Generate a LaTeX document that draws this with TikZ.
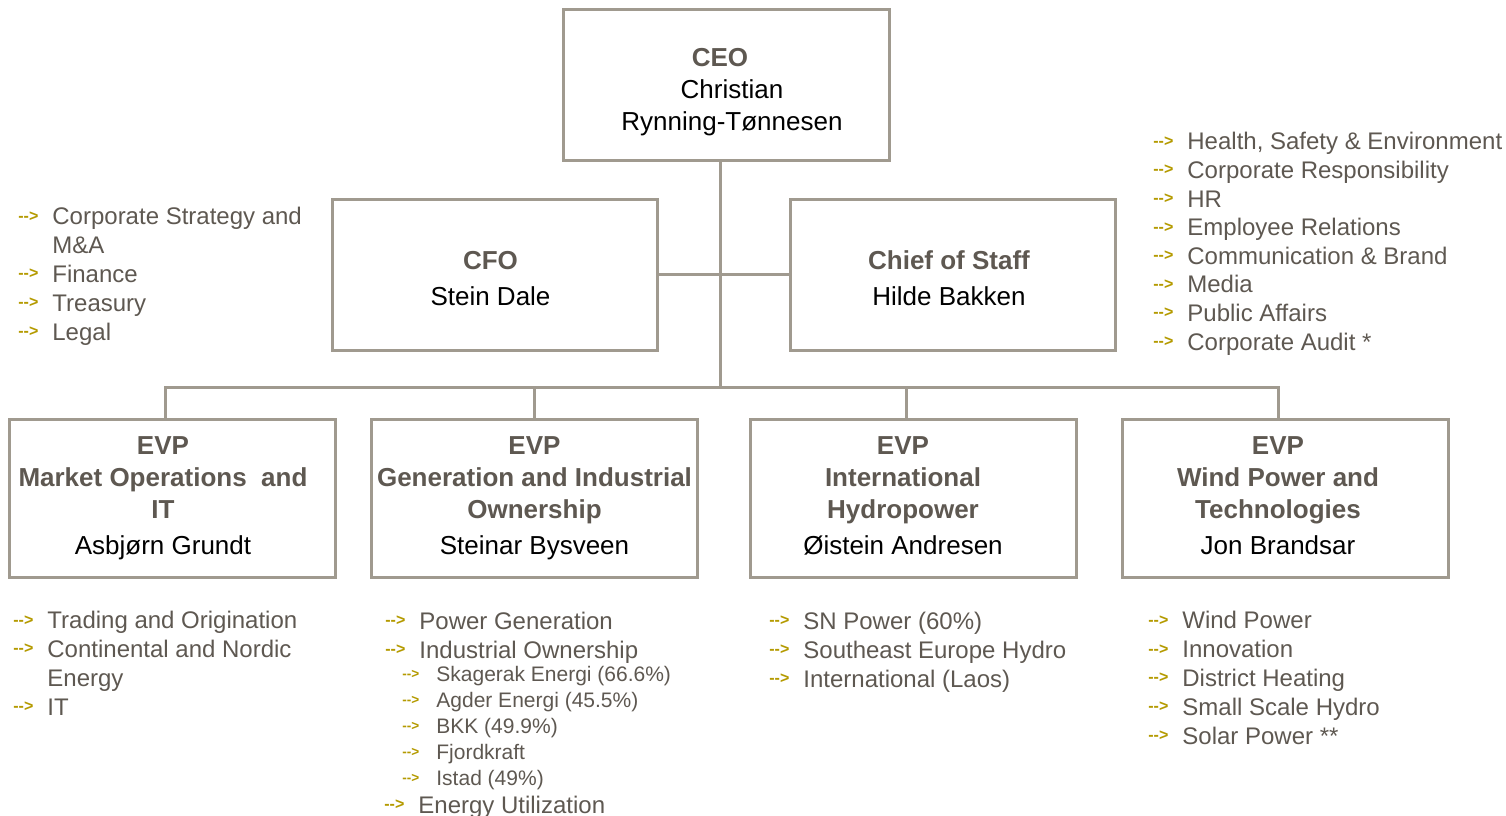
\documentclass[tikz,border=0pt]{standalone}
\usepackage{fontspec}
\setmainfont{Liberation Sans}

\definecolor{boxline}{HTML}{A09A8F}
\definecolor{titletext}{HTML}{5E5851}
\definecolor{listtext}{HTML}{5E5851}
\definecolor{bullet}{HTML}{B49A00}

\newcommand{\arr}{\makebox[17pt][l]{\raisebox{1.8pt}{\fontsize{8}{9}\selectfont\bfseries\color{bullet}-{}-{}>}}}
\newcommand{\sarr}{\makebox[17pt][l]{\raisebox{1.5pt}{\fontsize{6.8}{8}\selectfont\bfseries\color{bullet}-{}-{}>}}}
\newcommand{\who}[1]{{\mdseries\color{black}#1}}
\newcommand{\topgap}[1]{\rule{0pt}{#1}}
% box text, pushed left by half of #1
\newcommand{\posttext}[2]{\begin{tabular}{@{}c@{\hspace{#1}}}#2\end{tabular}}

\tikzset{
  post/.style={draw=boxline, line width=1.5pt, text=titletext,
               font=\fontsize{13}{16}\selectfont\bfseries, inner sep=0pt},
  ceobox/.style={post, align=center, minimum width=163pt, minimum height=75.5pt},
  staffbox/.style={post, minimum width=162.5pt, minimum height=75.5pt},
  evpbox/.style={post, minimum width=163pt, minimum height=79pt},
  tie/.style={draw=boxline, line width=1.5pt},
  % lists are placed at the baseline of their last line
  itemlist/.style={anchor=base west, inner sep=0pt, align=left, text=listtext,
                   font=\fontsize{12}{14.4}\selectfont},
  subitemlist/.style={itemlist, font=\fontsize{10.5}{12.9}\selectfont},
}

\begin{document}
\begin{tikzpicture}[x=0.5pt, y=-0.5pt]
        \useasboundingbox (0,0) rectangle (1506,815);

        % top management
        \node[ceobox] (ceo) at (726,84.5) {\topgap{16.4pt}CEO\hspace*{6pt}\\ \hspace*{6pt}\who{Christian}\\ \hspace*{6pt}\who{Rynning-Tønnesen}};
        \node[staffbox] (cfo) at (494.5,274.5) {\posttext{4pt}{\topgap{17.3pt}CFO\\[2pt] \who{Stein Dale}}};
        \node[staffbox] (cos) at (953,274.5) {\posttext{4pt}{\topgap{17.3pt}Chief of Staff\\[2pt] \who{Hilde Bakken}}};

        % business areas
        \node[evpbox] (evp1) at (172,498) {\posttext{9pt}{EVP\\ Market Operations\ \ and\\ IT\\[2pt] \who{Asbjørn Grundt}}};
        \node[evpbox] (evp2) at (534.5,498) {\posttext{0pt}{EVP\\ Generation and Industrial\\ Ownership\\[2pt] \who{Steinar Bysveen}}};
        \node[evpbox] (evp3) at (913,498) {\posttext{10pt}{EVP\\ International\\ Hydropower\\[2pt] \who{Øistein Andresen}}};
        \node[evpbox] (evp4) at (1285,498) {\posttext{7pt}{EVP\\ Wind Power and\\ Technologies\\[2pt] \who{Jon Brandsar}}};

        % lines
        \coordinate (bus) at (720,387);
        \draw[tie] ([xshift=-3pt]ceo.south) -- ([xshift=-3pt]ceo.south |- bus);
        \draw[tie] (cfo) -- (cos);
        \draw[tie] ([xshift=-3.5pt]evp1.north) |- (bus) -| ([xshift=-3.5pt]evp4.north);
        \draw[tie] (evp2.north) -- (evp2.north |- bus);
        \draw[tie] ([xshift=-3.5pt]evp3.north) -- ([xshift=-3.5pt]evp3.north |- bus);

        % staff functions
        \node[itemlist] (cfolist) at (18,340) {\arr Corporate Strategy and\\ \hspace*{17pt}M\&A\\ \arr Finance\\ \arr Treasury\\ \arr Legal};
        \node[itemlist, font=\fontsize{12}{14.3}\selectfont] (coslist) at (1153,350) {\arr Health, Safety \& Environment\\ \arr Corporate Responsibility\\ \arr HR\\ \arr Employee Relations\\ \arr Communication \& Brand\\ \arr Media\\ \arr Public Affairs\\ \arr Corporate Audit *};

        % units
        \node[itemlist] (evp1list) at (13,715) {\arr Trading and Origination\\ \arr Continental and Nordic\\ \hspace*{17pt}Energy\\ \arr IT};
        \node[itemlist, font=\fontsize{12}{14.5}\selectfont] (evp2list) at (385,658) {\arr Power Generation\\ \arr Industrial Ownership};
        \node[subitemlist] (evp2sub) at (402,785) {\sarr Skagerak Energi (66.6\%)\\ \sarr Agder Energi (45.5\%)\\ \sarr BKK (49.9\%)\\ \sarr Fjordkraft\\ \sarr Istad (49\%)};
        \node[itemlist] (evp2last) at (384,813) {\arr Energy Utilization};
        \node[itemlist] (evp3list) at (769,687) {\arr SN Power (60\%)\\ \arr Southeast Europe Hydro\\ \arr International (Laos)};
        \node[itemlist] (evp4list) at (1148,744) {\arr Wind Power\\ \arr Innovation\\ \arr District Heating\\ \arr Small Scale Hydro\\ \arr Solar Power **};

    \end{tikzpicture}
\end{document}
